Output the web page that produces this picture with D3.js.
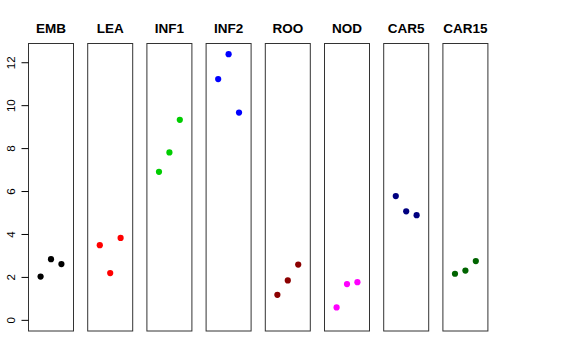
<!DOCTYPE html>
<html><head><meta charset="utf-8">
<script src="https://cdn.jsdelivr.net/npm/d3@7"></script>
<style>html,body{margin:0;padding:0;background:#fff;}</style>
</head><body>
<svg id="chart" width="576" height="360"></svg>
<script>
const categories = ["EMB","LEA","INF1","INF2","ROO","NOD","CAR5","CAR15"];
const colors = ["#000000","#FF0000","#00CD00","#0000FF","#8B0000","#FF00FF","#000080","#006400"];
const rep1 = [2.04, 3.50, 6.92, 11.24, 1.19, 0.60, 5.79, 2.17];
const rep2 = [2.85, 2.20, 7.82, 12.40, 1.86, 1.69, 5.08, 2.32];
const rep3 = [2.62, 3.84, 9.34, 9.68, 2.60, 1.78, 4.90, 2.76];
const yTicks = [0, 2, 4, 6, 8, 10, 12];

const svg = d3.select("#chart");
const pTop = 43.5, pBottom = 331, panelW = 45, step = 59.2, left0 = 28.5;

const y = d3.scaleLinear().domain([-0.496, 12.896]).range([pBottom, pTop]);
const x = d3.scaleLinear().domain([-0.16, 4.16]).range([0, panelW]);

categories.forEach((cat, i) => {
  const px = left0 + i * step;
  const g = svg.append("g").attr("transform", `translate(${px},0)`);
  g.append("rect").attr("x", 0).attr("y", pTop).attr("width", panelW).attr("height", pBottom - pTop)
    .attr("fill", "none").attr("stroke", "#333").attr("stroke-width", 1);
  g.append("text").attr("x", panelW / 2).attr("y", 33.2).attr("text-anchor", "middle")
    .attr("font-family", "Liberation Sans, Arial, sans-serif").attr("font-weight", "bold")
    .attr("font-size", 13.5).text(cat);
  const vals = [rep1[i], rep2[i], rep3[i]];
  g.selectAll("circle").data(vals).enter().append("circle")
    .attr("cx", (d, j) => x(j + 1)).attr("cy", d => y(d)).attr("r", 3.1)
    .attr("fill", colors[i]);
});

const axis = d3.axisLeft(y).tickValues(yTicks).tickSize(7).tickFormat(d3.format("d"));
const ag = svg.append("g").attr("transform", `translate(${left0},0)`).call(axis);
ag.select(".domain").remove();
ag.selectAll("line").attr("stroke", "#000");
ag.selectAll(".tick").attr("transform", null);
ag.selectAll(".tick line").attr("y1", d => y(d)).attr("y2", d => y(d));
ag.selectAll("text").attr("font-family", "Liberation Sans, Arial, sans-serif").attr("font-size", 11.5)
  .attr("fill", "#000").attr("text-anchor", "middle").attr("dy", null)
  .attr("transform", function(d){ return `translate(-18, ${y(d)}) rotate(-90)`; })
  .attr("x", 0).attr("y", 0).attr("dominant-baseline", "central");
</script>
</body></html>
